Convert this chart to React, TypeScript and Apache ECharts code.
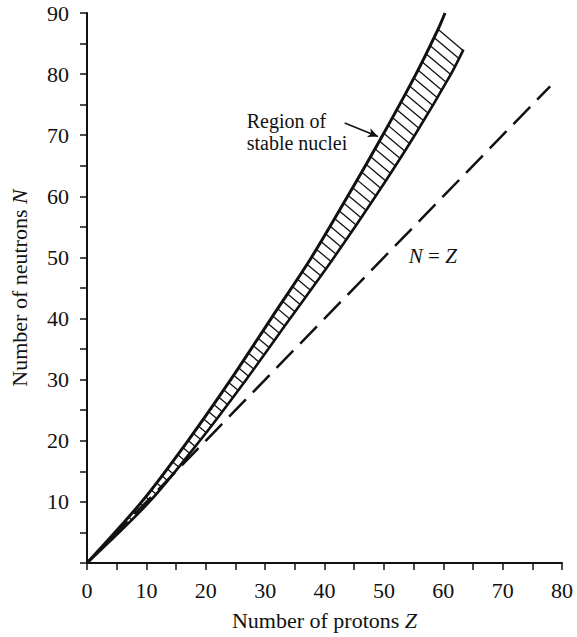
import React, { useEffect, useRef } from "react";
import * as echarts from "echarts";

// ---- data ----
const xTickLabels = [0, 10, 20, 30, 40, 50, 60, 70, 80];
const yTickLabels = [10, 20, 30, 40, 50, 60, 70, 80, 90];

// upper boundary of the stability band (Z, N)
const upperZ = [0, 9.2, 17.0, 24.2, 31.0, 37.8, 43.9, 49.8, 55.4, 59.2, 60.3];
const upperN = [0, 10, 20, 30, 40, 50, 60, 70, 80, 87.5, 90];
// lower boundary of the stability band (Z, N)
const lowerZ = [0, 10.5, 19.0, 26.8, 34.2, 41.6, 48.6, 55.2, 61.3, 63.4];
const lowerN = [0, 10, 20, 30, 40, 50, 60, 70, 80, 84];
// last upper-curve index that bounds the hatched area
const hatchUpperEnd = 9;

// N = Z line
const nzZ = [0, 78];
const nzN = [0, 78];

// annotations (data coordinates)
const regionLabel = ["Region of", "stable nuclei"];
const regionLabelAt = [26.9, 74.0];
const arrowFrom = [43.4, 72.0];
const arrowTo = [49.0, 69.8];
const nzLabelAt = [54.2, 50.2];

const FONT = "'Liberation Serif', 'DejaVu Serif', serif";
const INK = "#111";
const HATCH_SLOPE = 0.84; // screen-space slope of hatch lines (down to the right)
const HATCH_STEP = 11.5; // vertical offset between hatch lines in px

function hatchSegments(pts: number[][]) {
  const segs: number[][] = [];
  let cmin = Infinity;
  let cmax = -Infinity;
  for (const p of pts) {
    const c = p[1] - HATCH_SLOPE * p[0];
    cmin = Math.min(cmin, c);
    cmax = Math.max(cmax, c);
  }
  const n = pts.length;
  for (let c = cmax - 0.5; c > cmin; c -= HATCH_STEP) {
    const hits: number[][] = [];
    for (let i = 0; i < n; i++) {
      const p = pts[i];
      const q = pts[(i + 1) % n];
      const fp = p[1] - HATCH_SLOPE * p[0] - c;
      const fq = q[1] - HATCH_SLOPE * q[0] - c;
      if ((fp <= 0 && fq > 0) || (fp > 0 && fq <= 0)) {
        const t = fp / (fp - fq);
        hits.push([p[0] + t * (q[0] - p[0]), p[1] + t * (q[1] - p[1])]);
      }
    }
    hits.sort((a, b) => a[0] - b[0]);
    for (let k = 0; k + 1 < hits.length; k += 2) {
      segs.push([hits[k][0], hits[k][1], hits[k + 1][0], hits[k + 1][1]]);
    }
  }
  return segs;
}

export default function App() {
  const ref = useRef<HTMLDivElement>(null);
  useEffect(() => {
    if (!ref.current) return;
    const chart = echarts.init(ref.current, undefined, { renderer: "svg" });
    const upper = upperZ.map((z, i) => [z, upperN[i]]);
    const lower = lowerZ.map((z, i) => [z, lowerN[i]]);
    const nz = nzZ.map((z, i) => [z, nzN[i]]);

    const axisCommon = {
      type: "value" as const,
      interval: 5,
      splitLine: { show: false },
      axisLine: { show: true, onZero: false, lineStyle: { color: INK, width: 2 } },
      axisTick: { show: true, length: 7, lineStyle: { color: INK, width: 1.5 } },
      nameLocation: "middle" as const,
      nameTextStyle: {
        fontFamily: FONT,
        fontSize: 22,
        color: INK,
        rich: { i: { fontFamily: FONT, fontSize: 22, fontStyle: "italic", color: INK } },
      },
    };

    chart.setOption({
      animation: false,
      backgroundColor: "#fff",
      grid: { left: 84, right: 15, top: 13, bottom: 74, containLabel: false },
      xAxis: {
        ...axisCommon,
        min: 0,
        max: 80,
        name: "Number of protons {i|Z}",
        nameGap: 46,
        axisLabel: {
          margin: 16,
          fontFamily: FONT,
          fontSize: 22,
          color: INK,
          formatter: (v: number) => (xTickLabels.includes(v) ? String(v) : ""),
        },
      },
      yAxis: {
        ...axisCommon,
        min: 0,
        max: 90,
        name: "Number of neutrons {i|N}",
        nameGap: 57,
        axisLabel: {
          margin: 18,
          fontFamily: FONT,
          fontSize: 22,
          color: INK,
          formatter: (v: number) => (yTickLabels.includes(v) ? String(v) : ""),
        },
      },
      series: [
        {
          type: "custom",
          silent: true,
          data: [[0, 0]],
          z: 1,
          renderItem: (params: any, api: any) => {
            const pts: number[][] = [];
            for (let i = 0; i <= hatchUpperEnd; i++) pts.push(api.coord(upper[i]));
            for (let i = lower.length - 1; i >= 0; i--) pts.push(api.coord(lower[i]));
            const segs = hatchSegments(pts);
            return {
              type: "group",
              children: segs.map((s) => ({
                type: "line",
                shape: { x1: s[0], y1: s[1], x2: s[2], y2: s[3] },
                style: { stroke: INK, lineWidth: 1.3 },
              })),
            };
          },
        },
        {
          type: "line",
          data: upper,
          symbol: "none",
          smooth: 0.3,
          silent: true,
          z: 3,
          lineStyle: { color: INK, width: 3 },
          markLine: {
            silent: true,
            symbol: ["none", "arrow"],
            symbolSize: [7, 10],
            label: { show: false },
            lineStyle: { color: INK, width: 1.5, type: "solid", curveness: 0.25 },
            data: [[{ coord: arrowFrom }, { coord: arrowTo }]],
          },
        },
        {
          type: "line",
          data: lower,
          symbol: "none",
          smooth: 0.3,
          silent: true,
          z: 3,
          lineStyle: { color: INK, width: 2.6 },
        },
        {
          type: "line",
          data: nz,
          symbol: "none",
          silent: true,
          z: 2,
          lineStyle: { color: INK, width: 2.5, type: [24, 10] },
        },
      ],
    });

    const rp = chart.convertToPixel({ gridIndex: 0 }, regionLabelAt) as number[];
    const np = chart.convertToPixel({ gridIndex: 0 }, nzLabelAt) as number[];
    chart.setOption({
      graphic: [
        ...regionLabel.map((t, i) => ({
          type: "text",
          x: rp[0],
          y: rp[1] + i * 22,
          silent: true,
          style: {
            text: t,
            fontFamily: FONT,
            fontSize: 20,
            lineHeight: 20,
            fill: INK,
            align: "left",
            verticalAlign: "top",
          },
        })),
        {
          type: "text",
          x: np[0],
          y: np[1],
          silent: true,
          style: {
            text: "{i|N} = {i|Z}",
            fontFamily: FONT,
            fontSize: 21,
            fill: INK,
            align: "left",
            verticalAlign: "middle",
            rich: { i: { fontFamily: FONT, fontSize: 21, fontStyle: "italic", fill: INK } },
          },
        },
      ],
    });

    return () => chart.dispose();
  }, []);

  return (
    <div
      ref={ref}
      style={{ position: "fixed", left: 0, top: 0, width: 577, height: 637, background: "#fff" }}
    />
  );
}
